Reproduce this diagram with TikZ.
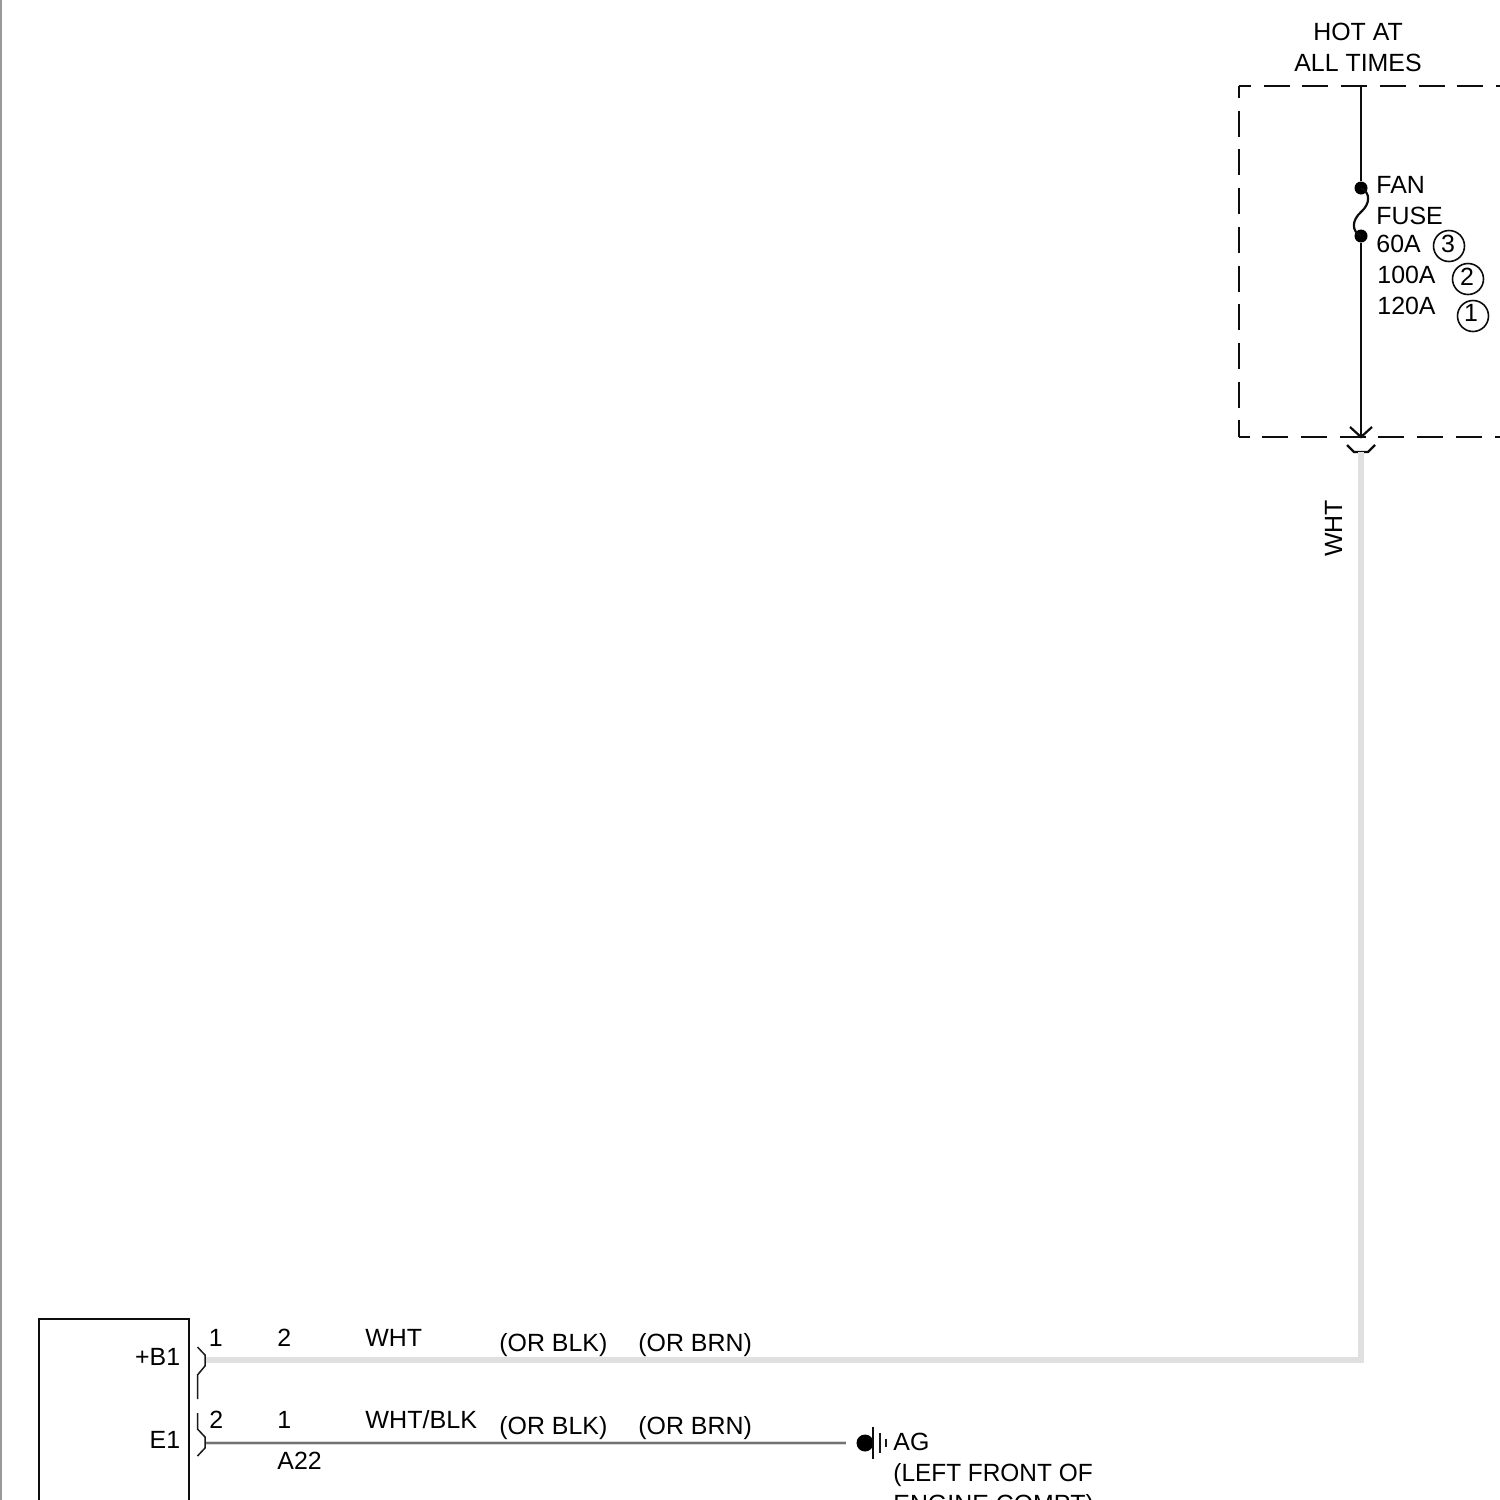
\documentclass[tikz,border=0pt]{standalone}
\usepackage{fontspec}
\setmainfont{Liberation Sans}
\tikzset{
  x=0.5pt,y=-0.5pt,
  lbl/.style={inner sep=0pt,font=\fontsize{12.45}{12.45}\selectfont,text=black},
  lw/.style={lbl,anchor=base west},
  le/.style={lbl,anchor=base east},
  lc/.style={lbl,anchor=base},
  ln/.style={draw=black!95,line width=1.1pt},
  thin line/.style={draw=black!90,line width=0.75pt},
  dashh/.style={draw=black!95,line width=1.05pt,dash pattern=on 13pt off 6.35pt},
  wirelight/.style={draw=black!12,line width=2.6pt},
  wirehalo/.style={draw=black!15,line width=2.4pt},
  wiredark/.style={draw=black!55,line width=0.8pt},
  ring/.style={circle,draw=black!95,line width=0.8pt,minimum size=15.5pt,inner sep=0pt},
  ringtxt/.style={lbl,anchor=center},
  dot/.style={circle,fill=black,draw=none,inner sep=0pt},
}
\begin{document}
\begin{tikzpicture}
\useasboundingbox (0,0) rectangle (1500,1500);
\clip (0,0) rectangle (1500,1500);
\fill[white] (0,0) rectangle (1500,1500);
\fill[black!40] (0,0) rectangle (2,1500);
% fuse block
\coordinate (ctl) at (1239,86);
\coordinate (cbl) at (1239,437);
\draw[dashh,dash phase=7pt] (ctl) -- (1600,86);
\draw[dashh,dash phase=7pt] (ctl) -- (cbl);
\draw[dashh,dash phase=7.7pt] (cbl) -- (1600,437);
\coordinate (feed) at (1361,86);
\coordinate (tip) at (1361,437);
\node[dot,minimum size=6.5pt] (fuseA) at (1361,188) {};
\node[dot,minimum size=6.5pt] (fuseB) at (1361,236) {};
\draw[ln] (feed) -- (fuseA);
\draw[ln] (fuseB) -- (tip);
\draw[ln] (fuseA.center) .. controls (1371,193) and (1370,204) .. (1361,212) .. controls (1352,220) and (1351,231) .. (fuseB.center);
\draw[ln] (1350,427) -- (tip) -- (1372,427);
\draw[ln] (1347,445) -- (1354,452) -- (1368,452) -- (1375,445);
\node[lc] (hot) at (1358,40) {HOT AT};
\node[lc] (all) at (1358,71) {ALL TIMES};
\node[lw] (fan) at (1376,193.5) {FAN};
\node[lw] (fuse) at (1376,224.5) {FUSE};
\node[lw] (a60) at (1376,252) {60A};
\node[lw] (a100) at (1377,283) {100A};
\node[lw] (a120) at (1377,314) {120A};
\node[ring] (r3) at (1449,246) {};
\node[ring] (r2) at (1468,279) {};
\node[ring] (r1) at (1473,316) {};
\node[ringtxt] (d3) at (1448,244) {3};
\node[ringtxt] (d2) at (1467,277) {2};
\node[ringtxt] (d1) at (1471,313) {1};
\node[lbl,rotate=90,anchor=base] (wht) at (1342,528.5) {WHT};
% wires
\coordinate (wa) at (1361,452);
\coordinate (wb) at (1361,1360);
\coordinate (wc) at (205,1360);
\draw[wirelight,line join=miter] (wa) -- (wb) -- (wc);
\coordinate (gs) at (205,1443);
\coordinate (ge) at (846,1443);
\draw[wirehalo] (gs) -- (ge);
\draw[wiredark] (gs) -- (ge);
% component box
\draw[ln] (39,1600) -- (39,1319) -- (189,1319) -- (189,1600);
\node[le] (b1) at (180.5,1365) {+B1};
\node[le] (e1) at (180.5,1448) {E1};
% connector brackets
\draw[thin line] (197.5,1347) -- (205,1355) -- (205,1366) -- (197.5,1375) -- (197.5,1399);
\draw[thin line] (197.5,1413) -- (197.5,1429) -- (205,1437) -- (205,1448) -- (197.5,1456);
% wire labels
\node[lw] (p1) at (208.5,1346) {1};
\node[lw] (p2) at (277,1346) {2};
\node[lw] (w1) at (365,1346) {WHT};
\node[lw] (o1) at (499,1351) {(OR BLK)};
\node[lw] (o2) at (638,1351) {(OR BRN)};
\node[lw] (q2) at (209,1428) {2};
\node[lw] (q1) at (277,1428) {1};
\node[lw,xscale=1.01] (w2) at (365,1428) {WHT/BLK};
\node[lw] (o3) at (499,1434) {(OR BLK)};
\node[lw] (o4) at (638,1434) {(OR BRN)};
\node[lw] (a22) at (277,1469) {A22};
% ground
\node[dot,minimum size=8.5pt] (gnd) at (865,1443) {};
\draw[draw=black!95,line width=1.4pt] (873,1427) -- (873,1459);
\draw[thin line] (880,1433) -- (880,1453);
\draw[thin line] (886,1439) -- (886,1447);
\node[lw] (ag) at (893,1450) {AG};
\node[lw,xscale=0.98] (ag2) at (893,1481) {(LEFT FRONT OF};
\node[lw] (ag3) at (893,1512) {ENGINE COMPT)};
\end{tikzpicture}
\end{document}
